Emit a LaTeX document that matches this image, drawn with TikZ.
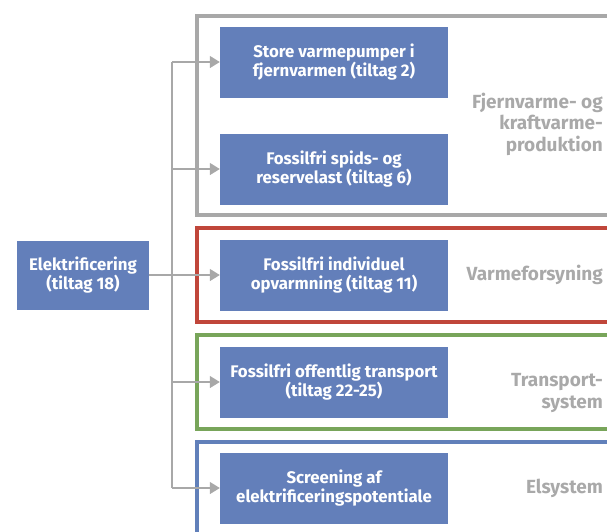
\documentclass[tikz,border=0pt]{standalone}
\usepackage{fontspec}
\setmainfont{Fira Sans}
\usetikzlibrary{arrows.meta}
\definecolor{boxblue}{HTML}{637FBA}
\definecolor{framegray}{HTML}{A8A8A8}
\definecolor{framered}{HTML}{C0463A}
\definecolor{framegreen}{HTML}{78A55A}
\definecolor{frameblue}{HTML}{6180BA}
\definecolor{labelgray}{HTML}{A9A9A9}
\definecolor{linegray}{HTML}{A8A8A8}
\begin{document}
\begin{tikzpicture}[x=1pt,y=-1pt,
  box/.style={fill=boxblue, minimum width=228pt, minimum height=71pt, text=white,
    font=\bfseries\fontsize{16.8}{19.5}\selectfont, align=center, inner sep=0pt},
  groupframe/.style={line width=4pt},
  grouplabel/.style={anchor=east, align=right, text=labelgray, inner sep=0pt,
    font=\bfseries\fontsize{19}{21.5}\selectfont},
  conn/.style={draw=linegray, line width=1.4pt},
  arr/.style={conn, -{Triangle[length=10pt,width=12pt]}, color=linegray}]
\useasboundingbox (0,0) rectangle (607,531);
\begin{scope}
\clip (0,0) rectangle (607,531);
\draw[groupframe, framegray] (197,16) rectangle (640,215);
\draw[groupframe, framered] (197,228) rectangle (640,322);
\draw[groupframe, framegreen] (197,335) rectangle (640,429);
\draw[groupframe, frameblue] (197,442) rectangle (640,570);
\end{scope}

\node[box] (b1) at (334,62) {Store varmepumper i\\fjernvarmen (tiltag 2)};
\node[box] (b2) at (334,169) {Fossilfri spids- og\\reservelast (tiltag 6)};
\node[box] (b3) at (334,275) {Fossilfri individuel\\opvarmning (tiltag 11)};
\node[box] (b4) at (334,382) {Fossilfri offentlig transport\\(tiltag 22-25)};
\node[box] (b5) at (334,488) {Screening af\\elektrificeringspotentiale};
\node[box, minimum width=132pt, minimum height=69pt] (elek) at (83,275) {Elektrificering\\(tiltag 18)};

\node[grouplabel] (l1) at (603,124) {Fjernvarme- og\\kraftvarme-\\produktion};
\node[grouplabel] (l2) at (603,275) {Varmeforsyning};
\node[grouplabel] (l3) at (603,393) {Transport-\\system};
\node[grouplabel] (l4) at (603,488) {Elsystem};

\coordinate (tr) at (172,0);
\draw[conn] (tr |- b1.west) -- (tr |- b5.west);
\draw[arr] (elek.east) -- (b3.west);
\foreach \b in {b1,b2,b4,b5} \draw[arr] (tr |- \b.west) -- (\b.west);
\end{tikzpicture}
\end{document}
